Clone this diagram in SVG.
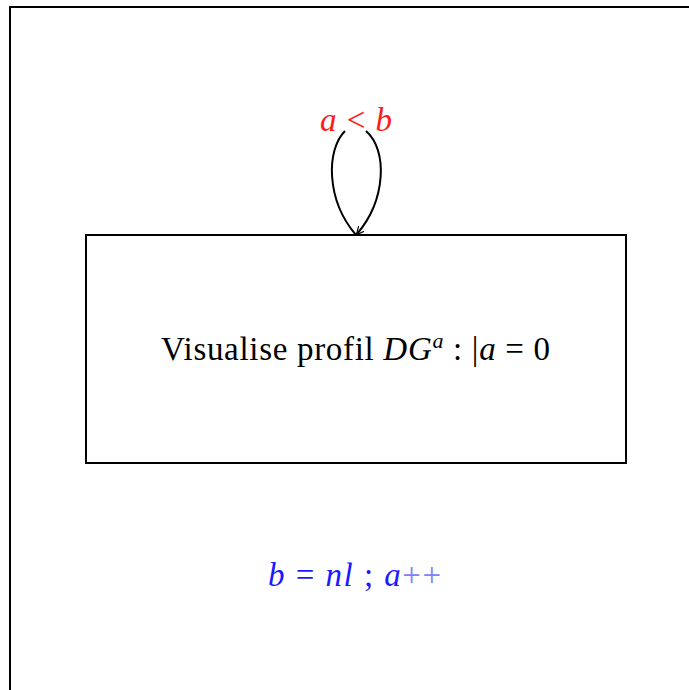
<svg xmlns="http://www.w3.org/2000/svg" width="689" height="690" viewBox="0 0 689 690">
<style>
.ln{fill:none;stroke:#000;stroke-width:2}
.t{font-family:"Liberation Serif",serif;font-size:33px}
.i{font-style:italic}
</style>
<defs>
<marker id="ah" viewBox="0 0 10 10" refX="9" refY="5" markerWidth="8" markerHeight="8" orient="auto" markerUnits="userSpaceOnUse">
<path d="M0,0 L10,5 L0,10" fill="none" stroke="#000" stroke-width="1.5"/>
</marker>
</defs>
<rect width="689" height="690" fill="#fff"/>
<path class="ln" d="M10,690 V7 H689"/>
<g id="node-main">
<rect class="ln" x="86" y="235" width="540" height="228"/>
<text class="t" x="161" y="360" textLength="389" lengthAdjust="spacing">Visualise profil <tspan class="i">DG</tspan><tspan class="i" font-size="22" dy="-12">a</tspan><tspan dy="12"> : |</tspan><tspan class="i">a</tspan> = 0</text>
</g>
<g id="label-loop">
<text class="t" x="320" y="131" textLength="72" lengthAdjust="spacing" fill="#ff1a1a"><tspan class="i">a</tspan> &lt; <tspan class="i">b</tspan></text>
</g>
<g id="label-bottom">
<text class="t" x="268" y="586" textLength="173" lengthAdjust="spacing" fill="#1a1aff"><tspan class="i">b</tspan> = <tspan class="i">nl</tspan> ; <tspan class="i">a</tspan><tspan fill="#8080ff">++</tspan></text>
</g>
<g id="connectors">
<path class="ln" d="M345,131 C326,150 326,200 356,235"/>
<path class="ln" d="M366,131 C388,150 386,200 357,234" marker-end="url(#ah)"/>
</g>
</svg>
